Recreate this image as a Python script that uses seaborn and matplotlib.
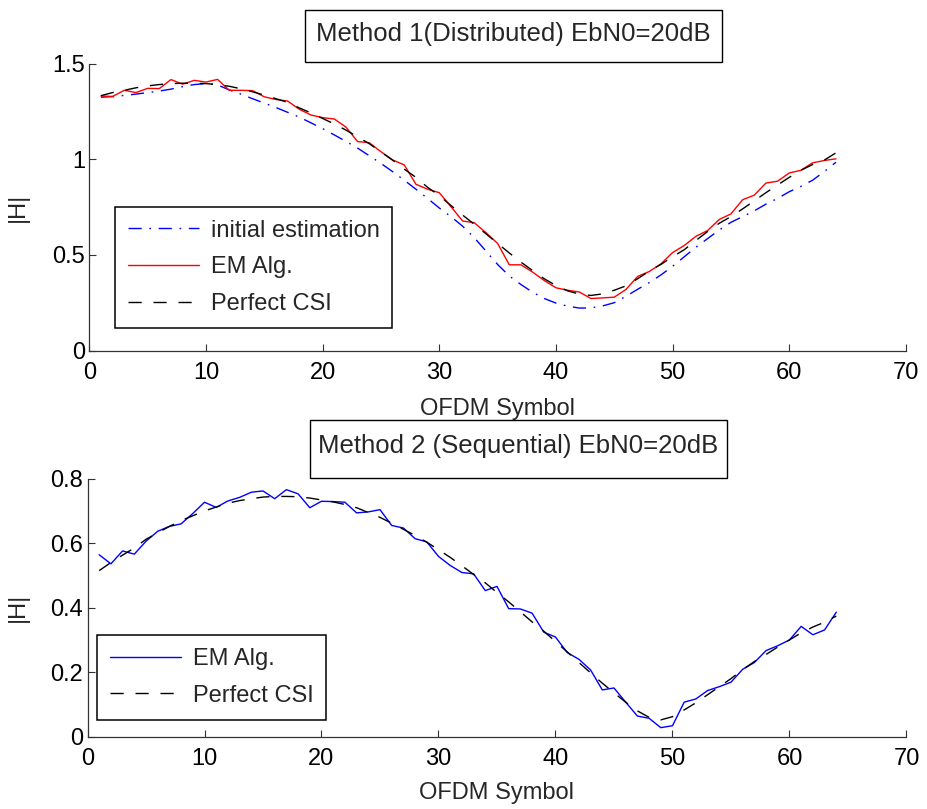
import numpy as np
import pandas as pd
import matplotlib
matplotlib.use("Agg")
import matplotlib.pyplot as plt
from matplotlib.patches import Rectangle
import seaborn as sns

# ---------------- data ----------------
symbols = list(range(1, 65))

m1_initial = [1.324, 1.327, 1.333, 1.340, 1.348, 1.356, 1.366, 1.379, 1.390, 1.395,
              1.388, 1.362, 1.340, 1.316, 1.293, 1.270, 1.245, 1.220, 1.190, 1.160,
              1.127, 1.093, 1.058, 1.018, 0.978, 0.935, 0.890, 0.843, 0.795, 0.745,
              0.700, 0.650, 0.590, 0.520, 0.450, 0.390, 0.345, 0.305, 0.272, 0.248,
              0.232, 0.222, 0.223, 0.233, 0.250, 0.283, 0.320, 0.355, 0.395, 0.440,
              0.490, 0.540, 0.585, 0.630, 0.670, 0.700, 0.730, 0.765, 0.795, 0.830,
              0.858, 0.890, 0.935, 0.984]

m1_em = [1.330, 1.328, 1.360, 1.348, 1.370, 1.369, 1.416, 1.392, 1.412, 1.403,
         1.417, 1.360, 1.360, 1.358, 1.326, 1.312, 1.304, 1.261, 1.231, 1.217,
         1.210, 1.168, 1.092, 1.086, 1.039, 0.996, 0.970, 0.869, 0.843, 0.825,
         0.752, 0.677, 0.668, 0.616, 0.560, 0.448, 0.448, 0.410, 0.366, 0.328,
         0.315, 0.306, 0.272, 0.275, 0.279, 0.319, 0.387, 0.413, 0.453, 0.512,
         0.549, 0.597, 0.627, 0.685, 0.714, 0.788, 0.812, 0.875, 0.885, 0.928,
         0.942, 0.981, 0.993, 1.002]

m1_perfect = [1.332, 1.348, 1.360, 1.373, 1.383, 1.390, 1.395, 1.397, 1.397, 1.395,
              1.390, 1.381, 1.368, 1.352, 1.335, 1.316, 1.297, 1.268, 1.242, 1.213,
              1.184, 1.152, 1.117, 1.081, 1.038, 0.995, 0.948, 0.905, 0.853, 0.810,
              0.758, 0.708, 0.660, 0.610, 0.560, 0.510, 0.462, 0.418, 0.375, 0.340,
              0.312, 0.295, 0.288, 0.296, 0.315, 0.338, 0.375, 0.415, 0.450, 0.490,
              0.527, 0.575, 0.622, 0.665, 0.700, 0.740, 0.782, 0.825, 0.865, 0.905,
              0.942, 0.972, 0.995, 1.033]

m2_em = [0.564, 0.536, 0.576, 0.566, 0.606, 0.637, 0.652, 0.660, 0.692, 0.727,
         0.711, 0.731, 0.742, 0.758, 0.762, 0.738, 0.766, 0.753, 0.710, 0.730,
         0.729, 0.727, 0.694, 0.697, 0.704, 0.655, 0.647, 0.614, 0.604, 0.559,
         0.531, 0.509, 0.505, 0.453, 0.466, 0.397, 0.396, 0.383, 0.324, 0.309,
         0.261, 0.240, 0.207, 0.145, 0.151, 0.107, 0.064, 0.057, 0.028, 0.034,
         0.107, 0.117, 0.143, 0.155, 0.169, 0.209, 0.230, 0.267, 0.282, 0.300,
         0.342, 0.316, 0.331, 0.386]

m2_perfect = [0.515, 0.540, 0.563, 0.585, 0.612, 0.632, 0.652, 0.670, 0.685, 0.700,
              0.712, 0.724, 0.732, 0.738, 0.743, 0.745, 0.745, 0.744, 0.740, 0.734,
              0.728, 0.720, 0.710, 0.695, 0.680, 0.662, 0.643, 0.624, 0.603, 0.580,
              0.556, 0.530, 0.503, 0.477, 0.447, 0.418, 0.387, 0.356, 0.327, 0.295,
              0.263, 0.230, 0.198, 0.166, 0.136, 0.107, 0.080, 0.060, 0.052, 0.062,
              0.083, 0.105, 0.130, 0.155, 0.180, 0.208, 0.233, 0.255, 0.278, 0.300,
              0.322, 0.340, 0.355, 0.374]

x_ticks = [0, 10, 20, 30, 40, 50, 60, 70]
top_yticks = [0, 0.5, 1, 1.5]
top_yticklabels = ["0", "0.5", "1", "1.5"]
bot_yticks = [0, 0.2, 0.4, 0.6, 0.8]
bot_yticklabels = ["0", "0.2", "0.4", "0.6", "0.8"]

title1 = "Method 1(Distributed) EbN0=20dB"
title2 = "Method 2 (Sequential) EbN0=20dB"
xlabel = "OFDM Symbol"
ylabel = "|H|"

df1 = pd.DataFrame({"symbol": symbols, "initial": m1_initial, "em": m1_em, "perfect": m1_perfect})
df2 = pd.DataFrame({"symbol": symbols, "em": m2_em, "perfect": m2_perfect})

# ---------------- style ----------------
sns.set_theme(style="white")
plt.rcParams["font.family"] = ["Liberation Sans", "DejaVu Sans"]
FS = 17
plt.rcParams.update({
    "xtick.direction": "in",
    "ytick.direction": "in",
    "xtick.major.size": 5,
    "ytick.major.size": 5,
    "xtick.major.width": 0.8,
    "ytick.major.width": 0.8,
    "xtick.color": "#333333",
    "ytick.color": "#333333",
    "xtick.labelcolor": "black",
    "ytick.labelcolor": "black",
    "xtick.bottom": True,
    "ytick.left": True,
})

DASH = (0, (9.5, 8.5))
DASHDOT = (0, (9.5, 5.5, 1.2, 5.5))

W, H = 928, 809
fig = plt.figure(figsize=(9.28, 8.09), dpi=100)
ax1 = fig.add_axes([0.0962, 0.5667, 0.8800, 0.3548])
ax2 = fig.add_axes([0.0943, 0.0894, 0.8825, 0.3189])

# top panel
sns.lineplot(data=df1, x="symbol", y="initial", ax=ax1, color=(0, 0, 1), lw=1.0,
             linestyle=DASHDOT, errorbar=None, label="initial estimation")
sns.lineplot(data=df1, x="symbol", y="em", ax=ax1, color=(1, 0, 0), lw=1.0,
             errorbar=None, label="EM Alg.")
sns.lineplot(data=df1, x="symbol", y="perfect", ax=ax1, color="black", lw=1.0,
             linestyle=DASH, errorbar=None, label="Perfect CSI")

# bottom panel
sns.lineplot(data=df2, x="symbol", y="em", ax=ax2, color=(0, 0, 1), lw=1.0,
             errorbar=None, label="EM Alg.")
sns.lineplot(data=df2, x="symbol", y="perfect", ax=ax2, color="black", lw=1.0,
             linestyle=DASH, errorbar=None, label="Perfect CSI")

for ax, yt, ytl, ylim in [(ax1, top_yticks, top_yticklabels, (0, 1.5)),
                          (ax2, bot_yticks, bot_yticklabels, (0, 0.8))]:
    ax.set_xlim(0, 70)
    ax.set_ylim(*ylim)
    ax.set_xticks(x_ticks)
    ax.set_xticklabels([str(t) for t in x_ticks], fontsize=FS)
    ax.set_yticks(yt)
    ax.set_yticklabels(ytl, fontsize=FS)
    ax.tick_params(axis="x", pad=8)
    ax.tick_params(axis="y", pad=3)
    for s in ["top", "right"]:
        ax.spines[s].set_visible(False)
    for s in ["left", "bottom"]:
        ax.spines[s].set_color("#333333")
        ax.spines[s].set_linewidth(0.9)
    ax.set_xlabel(xlabel, fontsize=FS)
    ax.set_ylabel(ylabel, fontsize=FS)

ax1.xaxis.set_label_coords(0.5, -0.166)
ax2.xaxis.set_label_coords(0.5, -0.174)
ax1.yaxis.set_label_coords(-0.074, 0.5)
ax2.yaxis.set_label_coords(-0.072, 0.5)

leg_kw = dict(fontsize=FS, loc="upper left", frameon=True, fancybox=False,
              handlelength=3.0, handletextpad=0.5, labelspacing=0.62,
              borderpad=0.55, borderaxespad=0.0, framealpha=1.0)
l1 = ax1.legend(bbox_to_anchor=(0.0315, 0.501), **leg_kw)
l2 = ax2.legend(bbox_to_anchor=(0.0116, 0.394), **leg_kw)
for lg in (l1, l2):
    lg.get_frame().set_edgecolor("black")
    lg.get_frame().set_linewidth(1.1)

# boxed titles (box in figure pixels)
for (x0, y0, x1, y1), txt, ty in [((305, 10, 722, 62), title1, 34),
                                  ((310, 420, 727, 478), title2, 446)]:
    fig.patches.append(Rectangle((x0 / W, 1 - y1 / H), (x1 - x0) / W, (y1 - y0) / H,
                                 transform=fig.transFigure, fc="white", ec="black",
                                 lw=1.0, zorder=5))
    fig.text((x0 + x1) / 2 / W, 1 - ty / H, txt, ha="center", va="center",
             fontsize=18.5, zorder=6)

fig.savefig("out.png", dpi=100)
